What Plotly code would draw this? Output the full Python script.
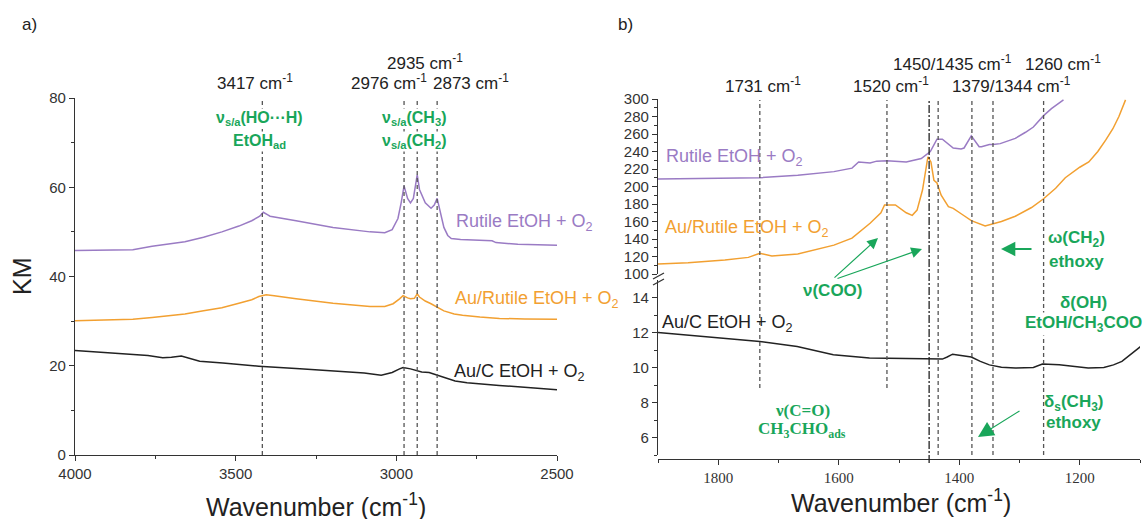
import plotly.graph_objects as go

W, H = 1147, 519
def px(x): return x / W
def py(y): return 1 - y / H

# ---------------- data ----------------
# Panel a (4000-2500 cm-1)
a_rutile_wn = [4000, 3900, 3820, 3760, 3700, 3658, 3600, 3543, 3490, 3450, 3425, 3414, 3400, 3393, 3312, 3197,
               3082, 3036, 3013, 2995, 2985, 2976, 2965, 2956, 2947, 2940, 2935, 2928, 2910, 2892, 2882, 2873,
               2862, 2852, 2840, 2829, 2800, 2772, 2740, 2702, 2690, 2622, 2560, 2500]
a_rutile_km = [45.8, 45.9, 46.0, 46.8, 47.4, 47.8, 48.8, 50.0, 51.3, 52.5, 53.5, 54.4, 53.8, 53.5, 52.5, 51.0,
               50.0, 49.8, 50.5, 53.0, 56.5, 60.3, 57.5, 56.5, 57.5, 60.5, 62.8, 59.5, 56.5, 55.3, 56.0, 57.5,
               54.0, 51.0, 49.2, 48.5, 48.3, 48.2, 48.2, 48.0, 47.6, 47.2, 47.1, 47.0]

a_aurutile_wn = [4000, 3900, 3820, 3760, 3700, 3658, 3600, 3543, 3490, 3450, 3428, 3405, 3380, 3312, 3197, 3082,
                 3036, 3010, 2990, 2979, 2965, 2956, 2944, 2935, 2928, 2910, 2892, 2875, 2852, 2820, 2794, 2740,
                 2679, 2600, 2500]
a_aurutile_km = [30.1, 30.2, 30.4, 30.8, 31.2, 31.6, 32.3, 33.0, 34.0, 34.8, 35.5, 35.9, 35.7, 35.0, 34.0, 33.3,
                 33.3, 33.9, 35.0, 35.7, 35.2, 35.0, 35.1, 36.1, 35.4, 34.5, 33.9, 33.3, 32.3, 31.6, 31.3, 30.9,
                 30.6, 30.5, 30.4]

a_auc_wn = [4000, 3900, 3820, 3773, 3727, 3700, 3669, 3640, 3612, 3540, 3428, 3300, 3197, 3100, 3047, 3013,
            2990, 2979, 2956, 2935, 2921, 2898, 2880, 2864, 2840, 2817, 2780, 2737, 2680, 2622, 2560, 2500]
a_auc_km = [23.4, 22.9, 22.5, 22.3, 21.8, 21.9, 22.2, 21.6, 21.0, 20.6, 19.9, 19.3, 18.9, 18.4, 17.9, 18.5,
            19.3, 19.6, 19.3, 18.8, 18.6, 18.5, 18.1, 17.7, 17.1, 16.6, 16.2, 15.9, 15.6, 15.3, 15.0, 14.6]

a_peaks = [3417, 2976, 2935, 2873]

# Panel b (1900-1100 cm-1)
b_rutile_wn = [1900, 1800, 1731, 1668, 1608, 1578, 1567, 1548, 1537, 1520, 1488, 1463, 1448, 1437, 1428, 1410,
               1397, 1392, 1380, 1367, 1363, 1350, 1344, 1332, 1307, 1290, 1277, 1260, 1247, 1227]
b_rutile_km = [208.6, 209.2, 210, 213, 217, 221, 228, 227, 229, 229.5, 228, 232, 240, 254, 254, 244,
               243, 244, 258, 245.5, 245.5, 248, 248, 249, 255, 262, 268, 281, 289, 299]

b_aurutile_wn = [1900, 1850, 1789, 1750, 1731, 1711, 1668, 1608, 1578, 1548, 1530, 1524, 1506, 1488, 1478, 1470,
                 1461, 1456, 1452, 1447, 1442, 1437, 1430, 1418, 1410, 1395, 1380, 1357, 1343, 1330, 1307, 1280,
                 1260, 1240, 1224, 1200, 1185, 1170, 1157, 1145, 1135, 1124]
b_aurutile_km = [111.4, 113, 116, 119, 123.6, 120.5, 122.9, 133, 141, 158, 170, 179, 179, 170, 167, 173,
                 196, 220, 234, 228, 207, 204, 190, 177, 175, 168, 161, 155, 158, 160, 166, 176,
                 186, 198, 210, 222, 228, 240, 253, 266, 280, 299]

b_auc_wn = [1900, 1850, 1800, 1731, 1669, 1609, 1549, 1489, 1450, 1428, 1420, 1411, 1400, 1392, 1380, 1365,
            1350, 1330, 1307, 1277, 1262, 1234, 1210, 1186, 1160, 1144, 1130, 1120, 1110, 1099]
b_auc_km = [12.0, 11.85, 11.7, 11.49, 11.2, 10.73, 10.54, 10.5, 10.48, 10.48, 10.6, 10.76, 10.7, 10.67, 10.6, 10.35,
            10.15, 10.02, 9.97, 10.0, 10.2, 10.15, 10.05, 9.97, 10.0, 10.15, 10.35, 10.63, 10.9, 11.2]

b_peaks = [1731, 1520, 1450, 1435, 1379, 1344, 1260]

# ---------------- styling ----------------
PURPLE = "#9a7bc4"
ORANGE = "#f2a031"
BLACK = "#222222"
GREEN = "#19a65a"
AXC = "#333333"
SANS = "Arial, Liberation Sans, sans-serif"
SERIF = "Times New Roman, Liberation Serif, serif"

fig = go.Figure()
for xs, ys, c, xa, ya in [
    (a_rutile_wn, a_rutile_km, PURPLE, "x", "y"),
    (a_aurutile_wn, a_aurutile_km, ORANGE, "x", "y"),
    (a_auc_wn, a_auc_km, BLACK, "x", "y"),
    (b_rutile_wn, b_rutile_km, PURPLE, "x2", "y3"),
    (b_aurutile_wn, b_aurutile_km, ORANGE, "x2", "y3"),
    (b_auc_wn, b_auc_km, BLACK, "x2", "y2"),
]:
    fig.add_trace(go.Scatter(x=xs, y=ys, mode="lines", line=dict(color=c, width=1.5),
                             xaxis=xa, yaxis=ya, hoverinfo="skip"))

axis_common = dict(showline=True, linecolor=AXC, linewidth=1.3, ticks="outside", ticklen=5,
                   tickwidth=1.2, tickcolor=AXC, showgrid=False, zeroline=False, automargin=False,
                   tickfont=dict(family=SANS, size=15, color=AXC))

fig.update_layout(
    width=W, height=519, margin=dict(l=0, r=0, t=0, b=0, autoexpand=False),
    paper_bgcolor="white", plot_bgcolor="white", showlegend=False,
    xaxis=dict(axis_common, domain=[px(75), px(557)], range=[4000, 2500], anchor="y",
               dtick=500, tick0=2500,
               minor=dict(dtick=250, tick0=2500, ticklen=3, ticks="outside", tickcolor=AXC)),
    yaxis=dict(axis_common, domain=[py(455), py(98)], range=[0, 80], anchor="x",
               dtick=20, minor=dict(dtick=10, ticklen=3, ticks="outside", tickcolor=AXC)),
    xaxis2=dict(axis_common, domain=[px(658), px(1140)], range=[1900, 1100], anchor="free",
                position=py(459), dtick=200, tick0=1200,
                tickfont=dict(family=SERIF, size=15, color=AXC),
                minor=dict(dtick=100, tick0=1100, ticklen=3, ticks="outside", tickcolor=AXC)),
    yaxis2=dict(axis_common, domain=[py(455), py(280)], range=[5, 15], anchor="x2",
                tickvals=[6, 8, 10, 12, 14],
                minor=dict(tickvals=[5, 7, 9, 11, 13], ticklen=3, ticks="outside", tickcolor=AXC)),
    yaxis3=dict(axis_common, domain=[py(274), py(99)], range=[100, 300], anchor="x2",
                dtick=20, minor=dict(dtick=10, ticklen=3, ticks="outside", tickcolor=AXC)),
)

shapes = []
DASH = "4px,3px"
for wn in a_peaks:
    shapes.append(dict(type="line", xref="x", yref="paper", x0=wn, x1=wn, y0=py(455), y1=py(100),
                       line=dict(color="#555", width=1.3, dash=DASH)))
b_bottoms = {1731: 388, 1520: 388, 1450: 463, 1435: 455, 1379: 455, 1344: 455, 1260: 455}
for wn in b_peaks:
    solidish = wn == 1450
    shapes.append(dict(type="line", xref="x2", yref="paper", x0=wn, x1=wn, y0=py(b_bottoms[wn]), y1=py(100),
                       line=dict(color="#222" if solidish else "#555", width=1.3,
                                 dash="8px,2px,2px,2px" if solidish else DASH)))
# axis break marks
shapes.append(dict(type="line", xref="paper", yref="paper", x0=px(653), y0=py(279), x1=px(664), y1=py(273),
                   line=dict(color=AXC, width=1.3)))
shapes.append(dict(type="line", xref="paper", yref="paper", x0=px(653), y0=py(285), x1=px(664), y1=py(279),
                   line=dict(color=AXC, width=1.3)))
fig.update_layout(shapes=shapes)

ann = []
def text(t, x, y, size=17, color="#222", family=SANS, xanchor="center", bold=False, bg=None, angle=0):
    s = f"<b>{t}</b>" if bold else t
    d = dict(text=s, x=px(x), y=py(y), xref="paper", yref="paper", showarrow=False,
             xanchor=xanchor, yanchor="middle", textangle=angle,
             font=dict(size=size, color=color, family=family))
    if bg:
        d.update(bgcolor=bg, borderpad=0)
    ann.append(d)

def arrow(hx, hy, tx, ty, width=1.2, size=1.4):
    ann.append(dict(text="", x=px(hx), y=py(hy), xref="paper", yref="paper", showarrow=True,
                    ax=tx - hx, ay=ty - hy, arrowhead=2, arrowsize=size, arrowwidth=width,
                    arrowcolor=GREEN))

# panel labels
text("a)", 30, 25, size=17, color="#222")
text("b)", 625, 25, size=17, color="#222")

# axis titles
text("KM", 22, 276, size=25, color="#222", angle=-90)
text("Wavenumber (cm<sup>-1</sup>)", 316, 505, size=25, color="#222")
text("Wavenumber (cm<sup>-1</sup>)", 901, 501, size=25, color="#222")

# panel a peak labels
text("3417 cm<sup>-1</sup>", 255, 82)
text("2935 cm<sup>-1</sup>", 425, 62)
text("2976 cm<sup>-1</sup>", 389, 82)
text("2873 cm<sup>-1</sup>", 471, 82)

# panel b peak labels
text("1731 cm<sup>-1</sup>", 763, 85)
text("1520 cm<sup>-1</sup>", 891, 85)
text("1450/1435 cm<sup>-1</sup>", 952, 63)
text("1379/1344 cm<sup>-1</sup>", 1011, 85)
text("1260 cm<sup>-1</sup>", 1063, 63)

# green assignments panel a
text("ν<sub>s/a</sub>(HO···H)", 259, 119, size=16, color=GREEN, bold=True, bg="white")
text("EtOH<sub>ad</sub>", 259, 141, size=16, color=GREEN, bold=True, bg="white")
text("ν<sub>s/a</sub>(CH<sub>3</sub>)", 414, 119, size=16, color=GREEN, bold=True, bg="white")
text("ν<sub>s/a</sub>(CH<sub>2</sub>)", 414, 141, size=16, color=GREEN, bold=True, bg="white")

# series labels
text("Rutile EtOH + O<sub>2</sub>", 454, 222, size=18, color=PURPLE, xanchor="left")
text("Au/Rutile EtOH + O<sub>2</sub>", 453, 299, size=18, color=ORANGE, xanchor="left")
text("Au/C EtOH + O<sub>2</sub>", 452, 372, size=18, color="#222", xanchor="left")
text("Rutile EtOH + O<sub>2</sub>", 664, 157, size=18, color=PURPLE, xanchor="left")
text("Au/Rutile EtOH + O<sub>2</sub>", 663, 228, size=18, color=ORANGE, xanchor="left")
text("Au/C EtOH + O<sub>2</sub>", 660, 323, size=18, color="#222", xanchor="left")

# green assignments panel b
text("ν(COO)", 833, 290, size=17, color=GREEN, bold=True)
arrow(878, 238, 833, 279, width=1.2, size=1.8)
arrow(922, 249, 836, 279, width=1.2, size=1.8)
text("ω(CH<sub>2</sub>)", 1076, 239, size=17, color=GREEN, bold=True)
text("ethoxy", 1076, 261, size=17, color=GREEN, bold=True)
arrow(1001, 249, 1033, 249, width=2.2, size=1.3)
text("δ(OH)", 1083, 302, size=17, color=GREEN, bold=True, bg="white")
text("EtOH/CH<sub>3</sub>COO", 1083, 324, size=17, color=GREEN, bold=True, bg="white")
text("ν(C=O)", 802, 410, size=17, color=GREEN, bold=True, family=SERIF)
text("CH<sub>3</sub>CHO<sub>ads</sub>", 802, 430, size=17, color=GREEN, bold=True, family=SERIF)
text("δ<sub>s</sub>(CH<sub>3</sub>)", 1073, 403, size=17, color=GREEN, bold=True)
text("ethoxy", 1073, 422, size=17, color=GREEN, bold=True)
arrow(978, 437, 1021, 410, width=1.2, size=2.6)

fig.update_layout(annotations=ann)
fig.write_html("out.html")
